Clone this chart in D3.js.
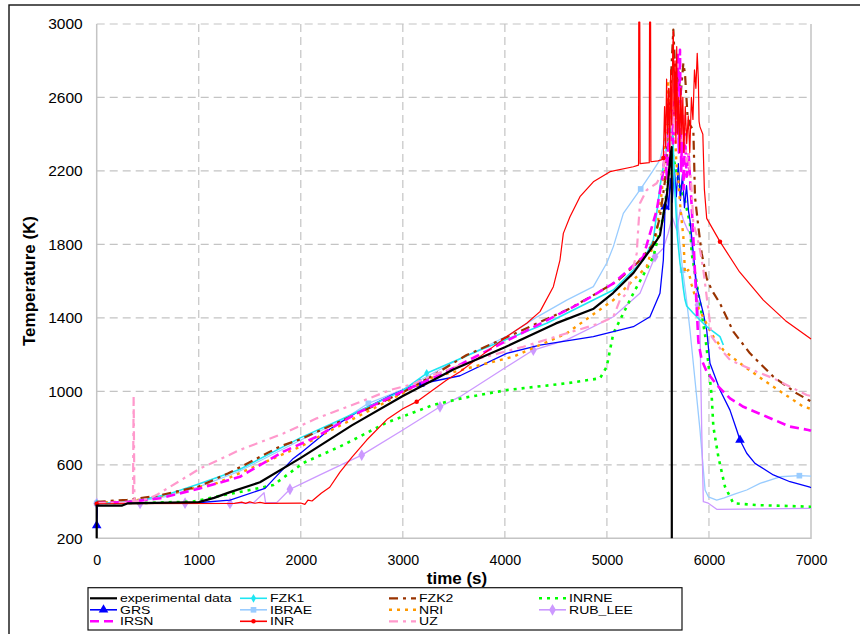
<!DOCTYPE html>
<html>
<head>
<meta charset="utf-8">
<script src="https://cdn.jsdelivr.net/npm/d3@7"></script>
<style>
  body { margin: 0; background: #fff; }
  svg { display: block; }
  text { font-family: "Liberation Sans", Arial, sans-serif; fill: #000; }
</style>
</head>
<body>
<svg id="chart" width="860" height="634"></svg>
<script>
// ---- axis ticks ----
const xTicks = [0, 1000, 2000, 3000, 4000, 5000, 6000, 7000];
const yTicks = [200, 600, 1000, 1400, 1800, 2200, 2600, 3000];

// ---- series values: [time (s), temperature (K)] ----
const expData = [[0,200],[0,378],[250,378],[300,390],[1000,397],[1150,420],[1300,450],[1600,505],[2000,638],[2500,815],[3000,975],[3500,1120],[4000,1240],[4500,1370],[4870,1450],[5060,1535],[5260,1645],[5450,1790],[5520,1850],[5553,1960],[5590,2080],[5618,2260],[5635,2330],[5636,200]];

const fzk1Data = [[0,390],[150,392],[400,405],[700,440],[1000,495],[1400,575],[2000,748],[2400,848],[3000,1005],[3234,1098],[3757,1225],[4410,1371],[5063,1552],[5357,1715],[5455,1824],[5488,1970],[5520,2114],[5560,2250],[5586,2332],[5618,2459],[5630,2350],[5645,2420],[5660,2150],[5675,2000],[5690,1850],[5700,1790],[5716,1700],[5733,1640],[5749,1560],[5765,1500],[5782,1465],[5847,1425],[5978,1352],[6108,1298],[6141,1252]];
const fzk1Marks = [0, 3234, 5618];

const fzk2Data = [[0,398],[300,410],[600,432],[1000,482],[1290,554],[1796,700],[2000,740],[2500,865],[3000,995],[3300,1088],[3626,1198],[4000,1290],[4639,1452],[4900,1534],[5100,1600],[5300,1700],[5450,1800],[5520,1950],[5570,2150],[5600,2400],[5620,2600],[5640,2850],[5651,2970],[5665,2800],[5680,2650],[5700,2750],[5720,2600],[5749,2786],[5765,2731],[5790,2500],[5815,2450],[5847,2423],[5855,2250],[5863,2060],[5896,1896],[5929,1751],[5978,1615],[6027,1552],[6108,1479],[6239,1325],[6402,1207],[6533,1134],[6631,1080],[6860,989],[6974,953],[7000,945]];

const inrneData = [[0,392],[500,393],[947,400],[1200,430],[1500,463],[1731,490],[2024,610],[2417,708],[2842,830],[3299,926],[3600,965],[4018,1007],[4606,1044],[4932,1071],[4998,1134],[5063,1316],[5259,1534],[5455,1733],[5553,1951],[5600,2150],[5640,2300],[5680,2200],[5720,2100],[5760,2050],[5814,1915],[5831,1751],[5896,1534],[5962,1307],[5994,1153],[6027,971],[6043,808],[6092,644],[6157,481],[6239,391],[6468,381],[6990,372],[7000,372]];

const grsData = [[0,270],[8,390],[500,392],[1013,395],[1307,408],[1650,472],[1764,540],[1927,635],[2000,665],[2286,795],[2548,885],[2874,975],[3038,1017],[3168,1040],[3560,1085],[4018,1207],[4344,1252],[4867,1298],[5259,1352],[5422,1406],[5520,1534],[5553,1715],[5570,2005],[5590,2100],[5605,1990],[5620,2160],[5640,2030],[5660,2210],[5680,2060],[5700,2240],[5720,2040],[5740,2180],[5760,2000],[5780,2120],[5800,1980],[5814,1933],[5880,1570],[5945,1425],[5978,1334],[6010,1153],[6108,1007],[6206,898],[6272,790],[6304,735],[6370,663],[6451,608],[6631,545],[6794,508],[6990,478],[7000,476]];
const grsMarks = [0, 3168, 5570, 6304];

const ibraeData = [[0,390],[400,400],[700,430],[1000,480],[1400,565],[2000,735],[2400,840],[2662,935],[3000,1010],[3500,1160],[4018,1300],[4300,1400],[4606,1497],[4867,1570],[5000,1700],[5063,1788],[5161,1969],[5331,2102],[5455,2205],[5520,2260],[5570,2380],[5600,2440],[5630,2500],[5650,2300],[5670,2150],[5690,1950],[5715,1800],[5742,1660],[5780,1500],[5814,1334],[5863,1062],[5912,790],[5962,463],[5994,426],[6076,408],[6150,420],[6250,440],[6370,463],[6500,499],[6696,535],[6886,541],[7000,538]];
const ibraeMarks = [0, 2662, 5331, 5742, 6886];

const nriData = [[0,395],[300,400],[600,425],[1013,481],[1176,500],[1584,599],[2000,700],[2205,762],[2744,916],[3000,990],[3266,1071],[3700,1135],[4083,1189],[4606,1316],[5063,1497],[5390,1679],[5480,1850],[5530,2050],[5553,2169],[5570,2314],[5590,2532],[5600,2695],[5610,2450],[5625,2600],[5640,2350],[5660,2500],[5680,2250],[5700,2150],[5720,2000],[5749,1842],[5765,1643],[5797,1661],[5831,1579],[5900,1450],[6043,1298],[6141,1225],[6304,1153],[6533,1062],[6729,989],[6925,916],[7000,905]];

const rubData = [[0,390],[425,390],[866,391],[1306,390],[1535,392],[1640,448],[1655,394],[1764,394],[1894,467],[2000,495],[2188,545],[2597,653],[3000,790],[3364,916],[3560,971],[4018,1134],[4279,1225],[4606,1280],[5063,1406],[5324,1534],[5471,1733],[5553,1779],[5600,1860],[5640,1950],[5684,1878],[5720,1990],[5749,1933],[5790,1880],[5814,1860],[5892,1470],[5912,1334],[5929,790],[5945,399],[5994,391],[6076,358],[6990,363],[7000,363]];
const rubMarks = [0, 425, 866, 1306, 1894, 2597, 3364, 4279, 5471, 5892];

const irsnData = [[0,392],[300,398],[622,418],[1000,470],[1404,535],[1829,672],[2156,753],[2548,880],[3000,1000],[3364,1090],[4000,1270],[4736,1479],[5063,1588],[5357,1733],[5488,1987],[5540,2150],[5570,2300],[5590,2150],[5605,2450],[5620,2250],[5635,2600],[5650,2350],[5665,2700],[5680,2400],[5695,2850],[5705,2300],[5716,2860],[5728,2200],[5740,2500],[5752,2100],[5765,2400],[5782,2169],[5800,2300],[5831,2005],[5850,1800],[5863,1650],[5896,1270],[5929,1171],[5978,1107],[6076,1035],[6206,962],[6337,916],[6566,862],[6794,808],[6974,790],[7000,785]];

const inrData = [[0,388],[1350,390],[1420,397],[1460,390],[1500,398],[1550,391],[1600,396],[1650,390],[2000,392],[2040,385],[2070,408],[2110,403],[2200,445],[2284,478],[2384,560],[2500,640],[2646,735],[2850,850],[3000,905],[3136,944],[3430,1062],[3560,1107],[3756,1189],[4018,1298],[4214,1371],[4344,1434],[4475,1570],[4540,1715],[4573,1860],[4638,1951],[4736,2060],[4867,2141],[5030,2196],[5259,2223],[5310,2232],[5312,3010],[5322,3010],[5325,2240],[5415,2245],[5418,3010],[5428,3010],[5431,2250],[5500,2255],[5540,2262],[5553,2270],[5565,2550],[5575,2330],[5585,2700],[5595,2400],[5605,2650],[5615,2300],[5625,2750],[5635,2450],[5645,2850],[5651,2960],[5658,2500],[5668,2800],[5676,2350],[5684,2877],[5694,2400],[5704,2600],[5714,2300],[5724,2650],[5734,2400],[5744,2600],[5754,2300],[5768,2550],[5782,2350],[5797,2500],[5812,2300],[5828,2600],[5843,2480],[5858,2750],[5872,2650],[5885,2840],[5896,2700],[5903,2470],[5912,2440],[5940,2400],[5955,2100],[5978,1942],[6108,1815],[6300,1650],[6533,1497],[6750,1385],[6990,1289],[7000,1285]];
const inrMarks = [0, 3136, 5553, 6108];

const uzData = [[0,392],[340,395],[355,400],[362,971],[370,400],[500,415],[588,436],[1013,580],[1404,681],[1829,771],[2156,853],[2548,935],[2874,1007],[3103,1040],[3300,1090],[3757,1180],[4181,1243],[4606,1316],[4932,1371],[5063,1406],[5128,1497],[5194,1534],[5292,1751],[5308,1896],[5324,2024],[5390,2096],[5488,2133],[5550,2200],[5580,2350],[5600,2550],[5620,2300],[5640,2650],[5660,2400],[5680,2700],[5700,2450],[5720,2600],[5740,2350],[5760,2500],[5780,2250],[5800,2300],[5830,2100],[5847,1915],[5880,1850],[5912,1770],[5945,1661],[6027,1298],[6108,1234],[6206,1171],[6468,1107],[6631,1071],[6827,1016],[6958,980],[7000,975]];

// ---- series styling ----
const styles = {
  "experimental data": { data: expData, color: "#000000", width: 2.2 },
  "FZK1":    { data: fzk1Data, color: "#1EE6F2", width: 1.6, marker: d3.symbolDiamond, size: 22, marks: fzk1Marks },
  "FZK2":    { data: fzk2Data, color: "#993300", width: 2.2, dash: "9,5,3,5" },
  "INRNE":   { data: inrneData, color: "#00FF00", width: 2.6, dash: "3,5" },
  "GRS":     { data: grsData, color: "#0000FF", width: 1.3, marker: d3.symbolTriangle, size: 40, marks: grsMarks },
  "IBRAE":   { data: ibraeData, color: "#99CCFF", width: 1.3, marker: d3.symbolSquare, size: 32, marks: ibraeMarks },
  "NRI":     { data: nriData, color: "#FF9900", width: 2.4, dash: "3,5" },
  "RUB_LEE": { data: rubData, color: "#CC99FF", width: 1.3, marker: d3.symbolDiamond, size: 40, marks: rubMarks },
  "IRSN":    { data: irsnData, color: "#FF00FF", width: 2.6, dash: "9,5" },
  "INR":     { data: inrData, color: "#FF0000", width: 1.2, marker: d3.symbolCircle, size: 16, marks: inrMarks },
  "UZ":      { data: uzData, color: "#FF99CC", width: 2.2, dash: "9,5,3,5" }
};

const legendOrder = [
  ["experimental data", "FZK1", "FZK2", "INRNE"],
  ["GRS", "IBRAE", "NRI", "RUB_LEE"],
  ["IRSN", "INR", "UZ"]
];
const drawOrder = ["IBRAE", "RUB_LEE", "INRNE", "GRS", "NRI", "FZK1", "FZK2", "IRSN", "UZ", "INR", "experimental data"];

// ---- layout ----
const svg = d3.select("#chart");
const plot = { left: 96.7, right: 811, top: 24, bottom: 538.3 };
const x = d3.scaleLinear().domain([0, 7000]).range([plot.left, plot.right]);
const y = d3.scaleLinear().domain([200, 3000]).range([plot.bottom, plot.top]);

// chart frame
svg.append("rect").attr("x", 9).attr("y", 5).attr("width", 900).attr("height", 700)
  .attr("fill", "none").attr("stroke", "#111").attr("stroke-width", 1.4);

// gridlines
const grid = svg.append("g").attr("stroke", "#C4C4C4").attr("stroke-width", 1.2).attr("stroke-dasharray", "8,5");
grid.selectAll("line.h").data(yTicks.filter(v => v > 200)).join("line")
  .attr("x1", plot.left).attr("x2", plot.right).attr("y1", d => y(d)).attr("y2", d => y(d));
grid.selectAll("line.v").data(xTicks.filter(v => v > 0 && v < 7000)).join("line")
  .attr("y1", plot.top).attr("y2", plot.bottom).attr("x1", d => x(d)).attr("x2", d => x(d));

// plot area border (left, right, bottom)
svg.append("path")
  .attr("d", `M${plot.left},${plot.top}V${plot.bottom}H${plot.right}V${plot.top}`)
  .attr("fill", "none").attr("stroke", "#C4C4C4").attr("stroke-width", 1.5);

// axes
const yAxis = svg.append("g").attr("transform", `translate(${plot.left},0)`)
  .call(d3.axisLeft(y).tickValues(yTicks).tickSize(0).tickPadding(14).tickFormat(d3.format("d")));
yAxis.select(".domain").remove();
yAxis.selectAll("text").attr("font-size", 15.5).attr("font-family", "Liberation Sans, Arial, sans-serif");

const xAxis = svg.append("g").attr("transform", `translate(0,${plot.bottom})`)
  .call(d3.axisBottom(x).tickValues(xTicks).tickSize(0).tickPadding(16.5).tickFormat(d3.format("d")));
xAxis.select(".domain").remove();
xAxis.selectAll("text").attr("font-size", 14.2).attr("font-family", "Liberation Sans, Arial, sans-serif");

// axis titles
svg.append("text").attr("x", 457).attr("y", 584).attr("text-anchor", "middle")
  .attr("font-size", 17).attr("font-weight", "bold").text("time (s)");
svg.append("text").attr("transform", "translate(35,281) rotate(-90)").attr("text-anchor", "middle")
  .attr("font-size", 17).attr("font-weight", "bold").text("Temperature (K)");

// series lines
const line = d3.line().x(d => x(d[0])).y(d => y(d[1]));
const seriesG = svg.append("g");
drawOrder.forEach(name => {
  const s = styles[name];
  seriesG.append("path").datum(s.data)
    .attr("d", line).attr("fill", "none")
    .attr("stroke", s.color).attr("stroke-width", s.width)
    .attr("stroke-dasharray", s.dash || null)
    .attr("stroke-linejoin", "round");
  if (s.marker) {
    seriesG.selectAll(null).data(s.data.filter(d => s.marks.includes(d[0]))).join("path")
      .attr("d", d3.symbol().type(s.marker).size(s.size))
      .attr("transform", d => `translate(${x(d[0])},${y(d[1])})`)
      .attr("fill", s.color);
  }
});

// legend (three tight rows, text condensed vertically to fit the box)
const lg = svg.append("g");
lg.append("rect").attr("x", 88).attr("y", 587.7).attr("width", 594).attr("height", 42.3)
  .attr("fill", "#fff").attr("stroke", "#111").attr("stroke-width", 1.2);
const colX = [90, 240, 389, 539];
const rowY = [598.3, 609.8, 621.3];
legendOrder.forEach((row, ri) => row.forEach((name, ci) => {
  const s = styles[name];
  const x0 = colX[ci], yy = rowY[ri];
  lg.append("line").attr("x1", x0).attr("x2", x0 + 27).attr("y1", yy).attr("y2", yy)
    .attr("stroke", s.color).attr("stroke-width", Math.max(s.width, 1.6))
    .attr("stroke-dasharray", s.dash || null);
  if (s.marker) {
    lg.append("path").attr("d", d3.symbol().type(s.marker).size(s.size))
      .attr("transform", `translate(${x0 + 13.5},${yy})`).attr("fill", s.color);
  }
  lg.append("text").attr("transform", `translate(${x0 + 30},${yy + 4}) scale(1.17,0.88)`)
    .attr("font-size", 12).text(name);
}));
</script>
</body>
</html>
